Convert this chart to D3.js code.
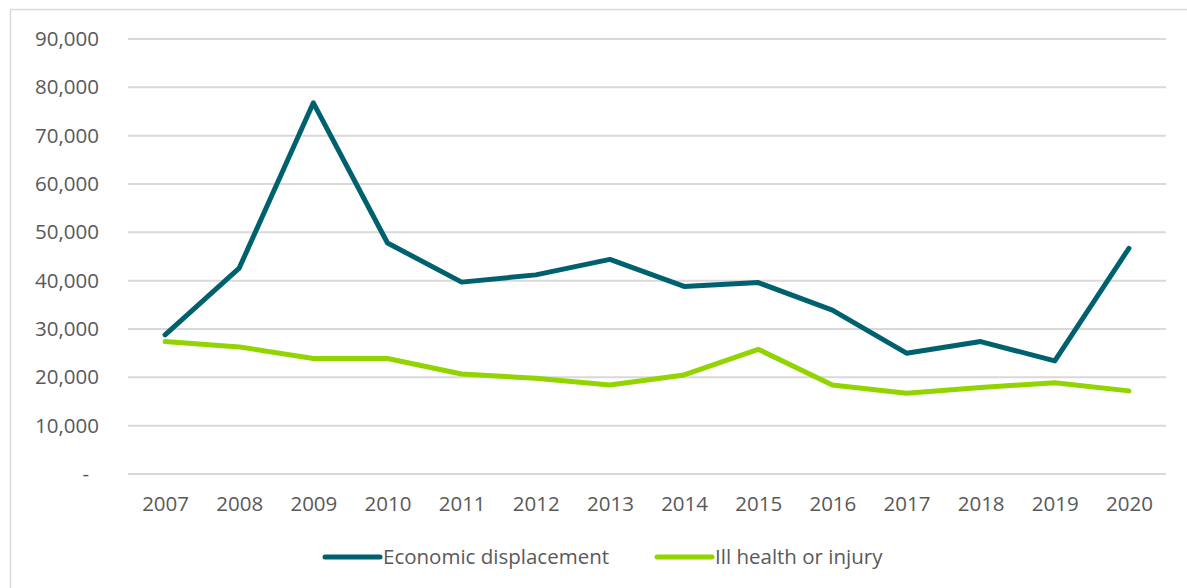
<!DOCTYPE html>
<html>
<head>
<meta charset="utf-8">
<script src="https://cdn.jsdelivr.net/npm/d3@7"></script>
<style>
  html, body { margin: 0; padding: 0; background: #fff; }
  svg { display: block; }
  text { font-family: "Open Sans", "Liberation Sans", sans-serif; fill: #595959; }
</style>
</head>
<body>
<svg id="chart" width="1187" height="588"></svg>
<script>
const years = ["2007","2008","2009","2010","2011","2012","2013","2014","2015","2016","2017","2018","2019","2020"];
const economicDisplacement = [28800, 42600, 76800, 47800, 39700, 41200, 44400, 38800, 39600, 33900, 25000, 27400, 23400, 46700];
const illHealthOrInjury = [27400, 26300, 23900, 23900, 20700, 19800, 18400, 20500, 25800, 18400, 16700, 17900, 18900, 17200];
const yTicks = [0, 10000, 20000, 30000, 40000, 50000, 60000, 70000, 80000, 90000];
const seriesNames = ["Economic displacement", "Ill health or injury"];
const seriesColors = ["#00616E", "#92D400"];

const svg = d3.select("#chart");
const plot = { left: 128, right: 1166, top: 39, bottom: 474 };
const FS = 20.5;

// outer border
svg.append("rect").attr("x", 10.5).attr("y", 9.5).attr("width", 1200).attr("height", 600)
  .attr("fill", "none").attr("stroke", "#d9d9d9").attr("stroke-width", 1.5);

const x = d3.scalePoint().domain(years).range([plot.left, plot.right]).padding(0.5);
const y = d3.scaleLinear().domain([0, 90000]).range([plot.bottom, plot.top]);

// gridlines
svg.append("g").selectAll("line").data(yTicks).join("line")
  .attr("x1", plot.left).attr("x2", plot.right)
  .attr("y1", d => y(d)).attr("y2", d => y(d))
  .attr("stroke", "#d9d9d9").attr("stroke-width", 2);

// y axis
const fmt = d3.format(",");
const yAxis = d3.axisLeft(y).tickValues(yTicks).tickSize(0).tickPadding(0)
  .tickFormat(d => d === 0 ? "-" : fmt(d));
const gy = svg.append("g").attr("transform", `translate(99,0)`).call(yAxis);
gy.select(".domain").remove();
gy.selectAll("text").attr("font-size", FS).attr("fill", "#595959")
  .attr("font-family", '"Open Sans", sans-serif')
  .attr("dx", d => d === 0 ? -10 : 0);

// x axis
const xAxis = d3.axisBottom(x).tickSize(0).tickPadding(0);
const gx = svg.append("g").attr("transform", `translate(0,${plot.bottom + 30})`).call(xAxis);
gx.select(".domain").remove();
gx.selectAll("text").attr("font-size", FS).attr("fill", "#595959")
  .attr("font-family", '"Open Sans", sans-serif').attr("dy", "0.35em");

// lines
const line = d3.line().x((d, i) => x(years[i])).y(d => y(d));
[economicDisplacement, illHealthOrInjury].forEach((vals, k) => {
  svg.append("path").datum(vals).attr("d", line)
    .attr("fill", "none").attr("stroke", seriesColors[k]).attr("stroke-width", 5)
    .attr("stroke-linejoin", "round").attr("stroke-linecap", "round");
});

// legend
const legendItems = [{ x: 325, name: seriesNames[0], color: seriesColors[0] },
                     { x: 657, name: seriesNames[1], color: seriesColors[1] }];
const lg = svg.append("g");
legendItems.forEach(it => {
  lg.append("line").attr("x1", it.x).attr("x2", it.x + 55).attr("y1", 557).attr("y2", 557)
    .attr("stroke", it.color).attr("stroke-width", 5).attr("stroke-linecap", "round");
  lg.append("text").attr("x", it.x + 58).attr("y", 557).attr("dy", "0.35em")
    .attr("font-size", FS).text(it.name);
});
</script>
</body>
</html>
